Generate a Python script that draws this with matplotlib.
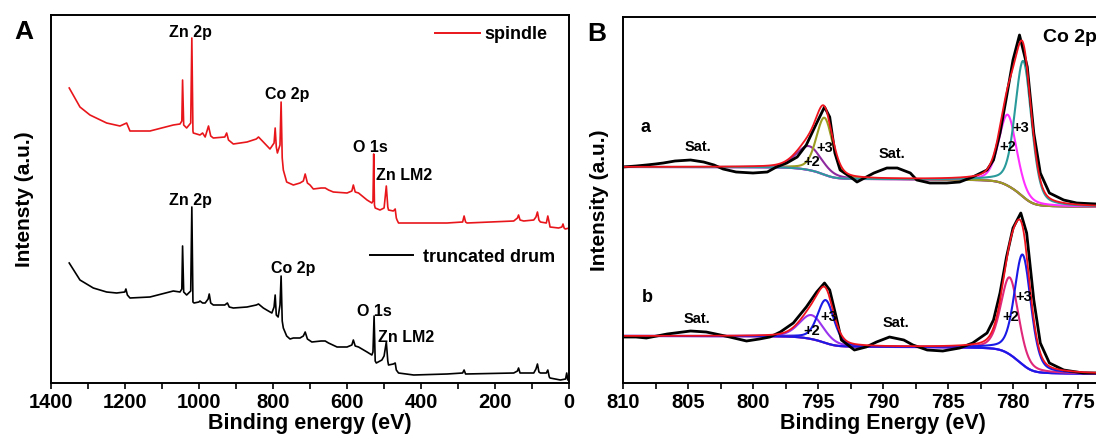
import numpy as np
import matplotlib
matplotlib.use("Agg")
import matplotlib.pyplot as plt
from matplotlib.lines import Line2D
from matplotlib.ticker import MultipleLocator

plt.rcParams['font.family'] = ['Liberation Sans', 'DejaVu Sans']
plt.rcParams['font.weight'] = 'bold'
plt.rcParams['axes.labelweight'] = 'bold'

# ---- survey spectra (binding energy eV, intensity a.u.) ----
spindle_be = [1350, 1321, 1294, 1249, 1213, 1195, 1186, 1132, 1069, 1051, 1046, 1044, 1041,
              1033, 1022, 1019, 1016, 1015, 997, 990, 983, 974, 968, 961, 930, 925, 920, 907,
              870, 845, 839, 826, 808, 797, 794, 791, 788, 781, 778, 775, 772, 763, 745, 727,
              718, 713, 707, 700, 691, 670, 659, 650, 637, 600, 587, 583, 578, 569, 546, 533,
              530, 528, 526, 524, 511, 500, 494, 490, 488, 475, 470, 467, 465, 461, 420, 330,
              288, 284, 280, 276, 150, 140, 137, 133, 123, 96, 90, 86, 82, 78, 62, 58, 54, 52,
              29, 20, 17, 14, 11, 0]
spindle_int = [295, 276, 268, 260, 257, 260, 252, 252, 258, 259, 262, 303, 258,
               255, 260, 345, 252, 250, 248, 250, 246, 257, 247, 245, 246, 250, 243, 239,
               241, 244, 246, 241, 234, 240, 255, 236, 230, 238, 281, 225, 213, 201, 198, 200,
               202, 209, 200, 198, 194, 195, 195, 193, 191, 190, 192, 198, 191, 190, 183, 180,
               182, 229, 178, 175, 173, 175, 197, 176, 173, 172, 174, 165, 163, 160, 160, 160,
               161, 167, 161, 160, 162, 165, 168, 163, 162, 163, 166, 171, 163, 161, 160, 167, 160, 156,
               155, 156, 159, 155, 154, 155]

drum_be = [1350, 1321, 1285, 1249, 1222, 1200, 1197, 1193, 1186, 1132, 1069, 1051, 1046, 1044,
           1041, 1033, 1022, 1019, 1016, 1013, 1000, 997, 990, 983, 975, 972, 968, 961, 930,
           923, 918, 907, 870, 845, 839, 826, 817, 803, 797, 794, 791, 786, 781, 778, 775, 772,
           763, 754, 745, 727, 718, 713, 707, 695, 670, 659, 650, 627, 600, 587, 583, 578, 569,
           546, 533, 530, 527, 524, 521, 506, 500, 494, 490, 488, 475, 470, 467, 461, 420, 330,
           288, 284, 280, 150, 140, 137, 133, 123, 96, 90, 86, 82, 78, 62, 58, 54, 52, 24, 10,
           7, 4, 0]
drum_int = [120, 103, 95, 91, 90, 91, 94, 88, 85, 86, 92, 91, 94, 137,
            91, 88, 92, 176, 81, 80, 81, 82, 80, 80, 84, 89, 80, 78, 78,
            80, 76, 75, 76, 78, 79, 75, 73, 70, 76, 88, 68, 66, 78, 107, 62, 55,
            47, 44, 45, 45, 47, 51, 44, 41, 42, 42, 40, 36, 36, 38, 43, 37, 36,
            31, 28, 31, 67, 22, 20, 23, 27, 41, 22, 18, 19, 20, 13, 10, 8, 9,
            10, 13, 9, 10, 12, 15, 10, 10, 10, 14, 19, 11, 10, 10, 13, 6, 5, 3, 4,
            10, 3, 3]

# ---- Co 2p high resolution: measured data ----
a_be = [810.0, 809.0, 808.2, 807.5, 806.9, 806.0, 804.8, 803.8, 803.0, 802.3, 801.3, 800.0,
        798.9, 798.2, 797.4, 796.6, 795.9, 795.1, 794.5, 794.1, 793.7, 793.3, 792.5, 792.0,
        790.7, 789.7, 788.9, 787.9, 787.4, 786.4, 785.1, 784.1, 783.1, 782.0, 781.5, 781.0,
        780.5, 780.0, 779.5, 778.9, 778.4, 777.9, 777.2, 776.1, 775.1, 773.6]
a_int = [216, 217, 218, 219, 220, 222, 223, 221, 218, 214, 211, 210,
         211, 216, 220, 226, 238, 260, 276, 266, 230, 213, 206, 201,
         210, 215, 215, 210, 203, 200, 200, 201, 206, 213, 223, 250,
         286, 323, 348, 316, 250, 210, 190, 183, 180, 179]

b_be = [810.0, 809.0, 808.2, 806.6, 804.8, 803.6, 802.5, 801.8, 800.5, 799.5, 798.7, 797.9,
        796.9, 795.9, 795.1, 794.5, 794.1, 793.6, 793.2, 792.5, 792.2, 791.3, 790.5, 789.5,
        788.4, 787.7, 786.6, 785.4, 784.1, 783.1, 782.0, 781.5, 781.0, 780.5, 780.0, 779.4,
        778.95, 778.4, 777.9, 777.2, 776.1, 774.6, 773.6]
b_int = [46, 46, 45, 49, 52, 51, 48, 46, 42, 44, 46, 51,
         60, 76, 91, 100, 93, 66, 43, 36, 33, 36, 41, 46,
         43, 38, 33, 32, 35, 40, 50, 63, 90, 126, 155, 170,
         150, 83, 40, 20, 13, 10, 10]

# fitted components: centre (eV), height above background, FWHM (eV)
a_peaks = {'p12_2': (795.7, 24, 2.3), 'p12_3': (794.5, 57, 1.5),
           'p32_2': (780.4, 71, 1.6), 'p32_3': (779.2, 136, 1.5)}
a_bg = (216, 176)   # background level on high / low BE side
b_peaks = {'p12_2': (795.5, 24, 2.2), 'p12_3': (794.4, 43, 1.5),
           'p32_2': (780.25, 77, 1.6), 'p32_3': (779.25, 110, 1.5)}
b_bg = (47, 9)

a_colors = {'p12_2': '#8e2a9e', 'p12_3': '#9c9c22', 'p32_2': '#ff30ff', 'p32_3': '#2a9a9a'}
b_colors = {'p12_2': '#9933ee', 'p12_3': '#1a1ae6', 'p32_2': '#e0287a', 'p32_3': '#1a1ae6'}


def pseudo_voigt(x, c, h, w, eta=0.35):
    g = np.exp(-4 * np.log(2) * ((x - c) / w) ** 2)
    lor = 1 / (1 + 4 * ((x - c) / w) ** 2)
    return h * ((1 - eta) * g + eta * lor)


def fit_curves(x, peaks, bg):
    comps = {k: pseudo_voigt(x, *v) for k, v in peaks.items()}
    total = sum(comps.values())
    # Shirley-type background from the integrated peak signal
    cum = np.cumsum(total) / total.sum()
    back = bg[1] + (bg[0] - bg[1]) * cum
    return comps, back, total + back


fig = plt.figure(figsize=(10.96, 4.41), dpi=100)
W, H = 1096, 441

# ---------------- panel A ----------------
axA = fig.add_axes([50.7 / W, (H - 383) / H, 518.6 / W, 368 / H])
axA.plot(spindle_be, spindle_int, color='#e8161b', lw=1.2)
axA.plot(drum_be, drum_int, color='black', lw=1.2)
axA.set_xlim(1400, 0)
axA.set_ylim(0, 368)
axA.set_yticks([])
axA.xaxis.set_major_locator(MultipleLocator(200))
axA.xaxis.set_minor_locator(MultipleLocator(100))
axA.set_xlabel('Binding energy (eV)', fontsize=15.5, labelpad=1)
axA.set_ylabel('Intensty (a.u.)', fontsize=15, labelpad=12)

fs = 11.5
axA.text(1024, 351, 'Zn 2p', fontsize=fs, ha='center', va='center')
axA.text(762, 289, 'Co 2p', fontsize=fs, ha='center', va='center')
axA.text(537, 236, 'O 1s', fontsize=fs, ha='center', va='center')
axA.text(445, 208, 'Zn LM2', fontsize=fs, ha='center', va='center')
axA.text(1024, 182, 'Zn 2p', fontsize=fs, ha='center', va='center')
axA.text(745, 115, 'Co 2p', fontsize=fs, ha='center', va='center')
axA.text(527, 71, 'O 1s', fontsize=fs, ha='center', va='center')
axA.text(440, 46, 'Zn LM2', fontsize=fs, ha='center', va='center')

leg1 = axA.legend([Line2D([], [], color='#e8161b', lw=1.4)], ['spindle'], frameon=False,
                  loc='center left', bbox_to_anchor=(0.741, 0.946), borderpad=0,
                  borderaxespad=0, handlelength=2.5, handletextpad=0.25, fontsize=13)
axA.add_artist(leg1)
axA.legend([Line2D([], [], color='black', lw=1.4)], ['truncated drum'], frameon=False,
           loc='center left', bbox_to_anchor=(0.616, 0.342), borderpad=0,
           borderaxespad=0, handlelength=2.4, handletextpad=0.55, fontsize=13)

# ---------------- panel B ----------------
axB = fig.add_axes([623 / W, (H - 383) / H, 520 / W, 366 / H])
x = np.linspace(770, 810, 1200)

for peaks, bg, colors, be, inten in [(a_peaks, a_bg, a_colors, a_be, a_int),
                                     (b_peaks, b_bg, b_colors, b_be, b_int)]:
    comps, back, env = fit_curves(x, peaks, bg)
    axB.plot(x, back, color=colors['p12_2'], lw=1.5)
    for key in ['p12_2', 'p12_3', 'p32_2', 'p32_3']:
        axB.plot(x, comps[key] + back, color=colors[key], lw=1.5)
    axB.plot(be, inten, color='black', lw=2.0)
    axB.plot(x, env, color='#f0141e', lw=1.3)

axB.set_xlim(810, 770)
axB.set_ylim(0, 366)
axB.set_yticks([])
axB.xaxis.set_major_locator(MultipleLocator(5))
axB.xaxis.set_minor_locator(MultipleLocator(2.5))
axB.set_xlabel('Binding Energy (eV)', fontsize=15.5, labelpad=1)
axB.set_ylabel('Intensity (a.u.)', fontsize=15, labelpad=10)

fb = 10.5
axB.text(808.3, 256, 'a', fontsize=13, ha='center', va='center')
axB.text(804.2, 236, 'Sat.', fontsize=fb, ha='center', va='center')
axB.text(795.5, 221, '+2', fontsize=fb, ha='center', va='center')
axB.text(794.5, 235, '+3', fontsize=fb, ha='center', va='center')
axB.text(789.3, 229, 'Sat.', fontsize=fb, ha='center', va='center')
axB.text(780.4, 236, '+2', fontsize=fb, ha='center', va='center')
axB.text(779.4, 255, '+3', fontsize=fb, ha='center', va='center')
axB.text(777.7, 346, 'Co 2p', fontsize=14, ha='left', va='center')
axB.text(808.1, 85, 'b', fontsize=13, ha='center', va='center')
axB.text(804.3, 64, 'Sat.', fontsize=fb, ha='center', va='center')
axB.text(795.5, 52, '+2', fontsize=fb, ha='center', va='center')
axB.text(794.2, 66, '+3', fontsize=fb, ha='center', va='center')
axB.text(789.0, 60, 'Sat.', fontsize=fb, ha='center', va='center')
axB.text(780.2, 66, '+2', fontsize=fb, ha='center', va='center')
axB.text(779.2, 86, '+3', fontsize=fb, ha='center', va='center')

for ax in (axA, axB):
    for s in ax.spines.values():
        s.set_linewidth(1.4)
    ax.tick_params(axis='x', which='both', direction='out', length=4, width=1.2,
                   labelsize=14.5, pad=3)

fig.text(23.5 / W, 1 - 32 / H, 'A', fontsize=19, ha='center', va='center')
fig.text(597 / W, 1 - 34 / H, 'B', fontsize=19, ha='center', va='center')

fig.savefig('out.png', dpi=100)
